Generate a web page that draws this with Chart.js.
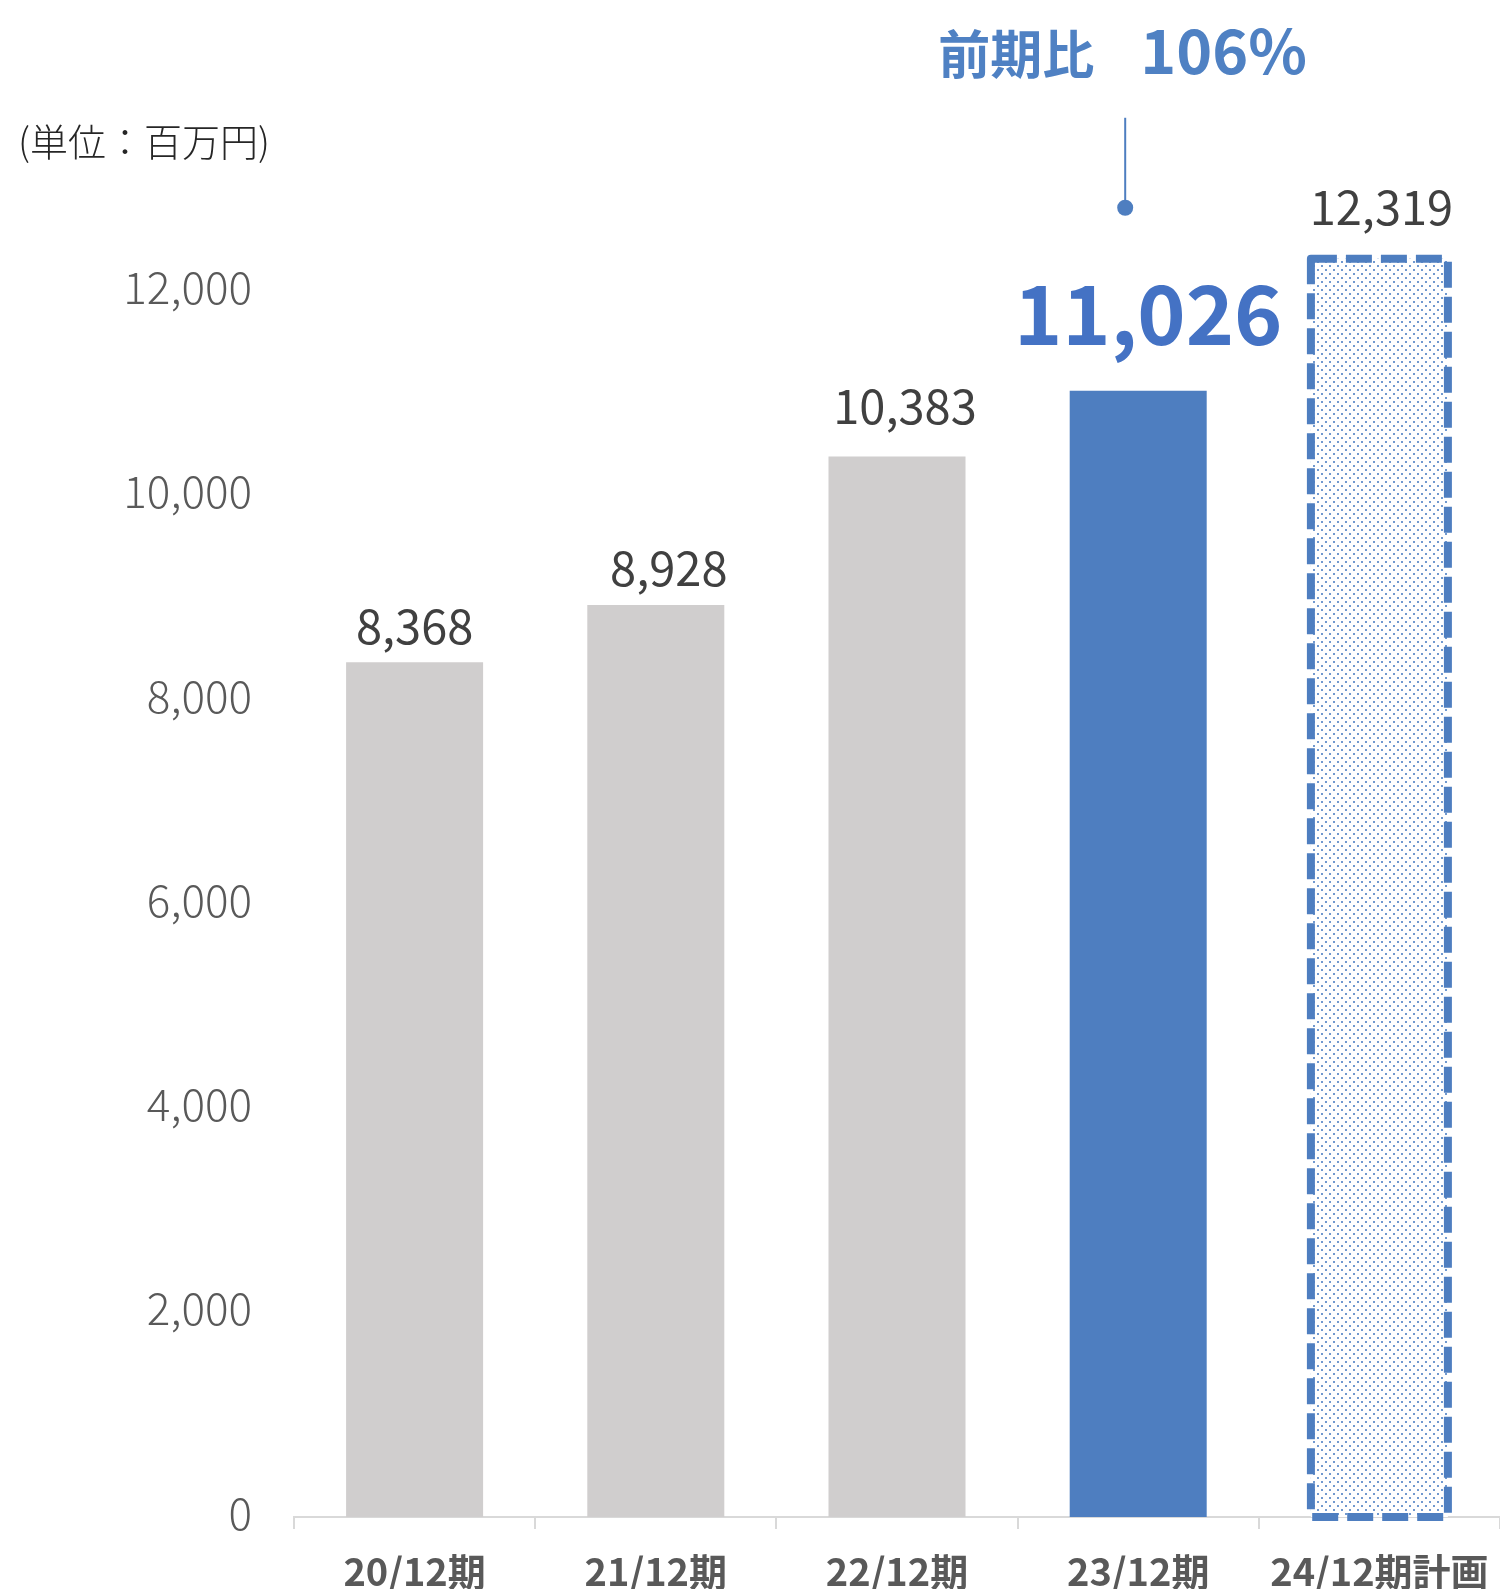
<!DOCTYPE html>
<html><head><meta charset="utf-8">
<script src="https://cdn.jsdelivr.net/npm/chart.js@4"></script>
<style>html,body{margin:0;padding:0;background:#fff;overflow:hidden}#wrap{width:1500px;height:1589px;position:relative}</style>
</head><body><div id="wrap"><canvas id="c" width="1500" height="1589"></canvas></div>
<script>
const categories = ['20/12期', '21/12期', '22/12期', '23/12期', '24/12期計画'];
const sales = [8368, 8928, 10383, 11026, 12319];
const yTickValues = [0, 2000, 4000, 6000, 8000, 10000, 12000];
const unitLabel = '(単位：百万円)';
const ratioLabel = '前期比';
const highlightIndex = 3;
const planIndex = 4;

const FONT = '"Noto Sans CJK JP", "Noto Sans", sans-serif';
const GREY = '#D0CECE';
const BLUE = '#4E7EC0';

function makeDotPattern() {
  const c = document.createElement('canvas');
  c.width = 8; c.height = 8;
  const g = c.getContext('2d');
  g.fillStyle = '#ffffff'; g.fillRect(0, 0, 8, 8);
  g.fillStyle = '#7199CF';
  g.fillRect(1, 1, 2, 2);
  g.fillRect(5, 5, 2, 2);
  return g.createPattern(c, 'repeat');
}
const dots = makeDotPattern();

const fmt = v => v.toLocaleString('en-US');

const overlay = {
  id: 'overlay',
  afterDatasetsDraw(chart, args, opts) {
    const ctx = chart.ctx;
    const meta = chart.getDatasetMeta(0);
    const ys = chart.scales.y;
    ctx.save();
    // dashed border on plan bar
    const pb = meta.data[planIndex];
    const pl = pb.x - pb.width / 2, pr = pb.x + pb.width / 2;
    ctx.strokeStyle = BLUE; ctx.lineWidth = 8; ctx.setLineDash([26, 9]);
    ctx.lineJoin = 'round';
    ctx.beginPath();
    ctx.rect(pl, pb.y, pr - pl, pb.base - pb.y);
    ctx.stroke();
    ctx.setLineDash([]);

    // value labels
    ctx.textAlign = 'center'; ctx.textBaseline = 'alphabetic';
    meta.data.forEach((el, i) => {
      const sh = opts.shift[i];
      if (i === highlightIndex) {
        ctx.font = 'bold 82px ' + FONT; ctx.fillStyle = '#4472C4';
      } else {
        ctx.font = '400 47px ' + FONT; ctx.fillStyle = '#404040';
      }
      ctx.fillText(fmt(sales[i]), el.x + sh[0], el.y - sh[1]);
    });

    // connector + ratio
    const hb = meta.data[highlightIndex];
    const cx = hb.x - 13;
    const dotY = ys.getPixelForValue(sales[highlightIndex]) - 183;
    ctx.strokeStyle = BLUE; ctx.lineWidth = 2;
    ctx.beginPath(); ctx.moveTo(cx, dotY - 90); ctx.lineTo(cx, dotY); ctx.stroke();
    ctx.fillStyle = BLUE;
    ctx.beginPath(); ctx.arc(cx, dotY, 8, 0, Math.PI * 2); ctx.fill();
    const ratio = Math.round(sales[highlightIndex] / sales[highlightIndex - 1] * 100) + '%';
    ctx.fillStyle = '#4F81C3';
    ctx.textAlign = 'right';
    ctx.font = 'bold 52px ' + FONT;
    ctx.fillText(ratioLabel, cx - 31, dotY - 134);
    ctx.textAlign = 'left';
    ctx.font = 'bold 61px ' + FONT;
    ctx.fillText(ratio, cx + 15, dotY - 134);

    // unit label
    ctx.fillStyle = '#262626';
    ctx.font = '300 38px ' + FONT;
    ctx.textAlign = 'left';
    ctx.fillText(unitLabel, 18, 156);
    ctx.restore();
  }
};

new Chart(document.getElementById('c'), {
  type: 'bar',
  data: {
    labels: categories,
    datasets: [{
      data: sales,
      backgroundColor: sales.map((v, i) => i === planIndex ? dots : (i === highlightIndex ? BLUE : GREY)),
      borderWidth: 0,
      categoryPercentage: 1,
      barPercentage: 0.568
    }]
  },
  options: {
    responsive: false,
    animation: false,
    devicePixelRatio: 1,
    layout: { padding: { top: 87, left: 0, right: 0, bottom: 0 } },
    plugins: {
      legend: { display: false },
      tooltip: { enabled: false },
      overlay: { shift: [[0, 18], [13, 19], [8, 32], [10, 46], [2, 34]] }
    },
    scales: {
      x: {
        afterFit: s => { s.height = 72; s.paddingLeft = 0; s.paddingRight = 0; },
        grid: { drawOnChartArea: false, drawTicks: true, tickLength: 12, color: '#D9D9D9', lineWidth: 2 },
        border: { color: '#D9D9D9', width: 2 },
        ticks: { color: '#595959', padding: 20, font: { family: FONT, size: 38, weight: 'bold' }, maxRotation: 0 }
      },
      y: {
        min: 0, max: 14000,
        afterBuildTicks: s => { s.ticks = yTickValues.map(v => ({ value: v })); },
        afterFit: s => { s.width = 294; s.paddingTop = 0; s.paddingBottom = 0; },
        grid: { display: false, drawTicks: false },
        border: { display: false },
        ticks: { color: '#595959', padding: 42, labelOffset: -4, font: { family: FONT, size: 44, weight: '300' }, callback: v => fmt(v) }
      }
    }
  },
  plugins: [overlay]
});
</script></body></html>
